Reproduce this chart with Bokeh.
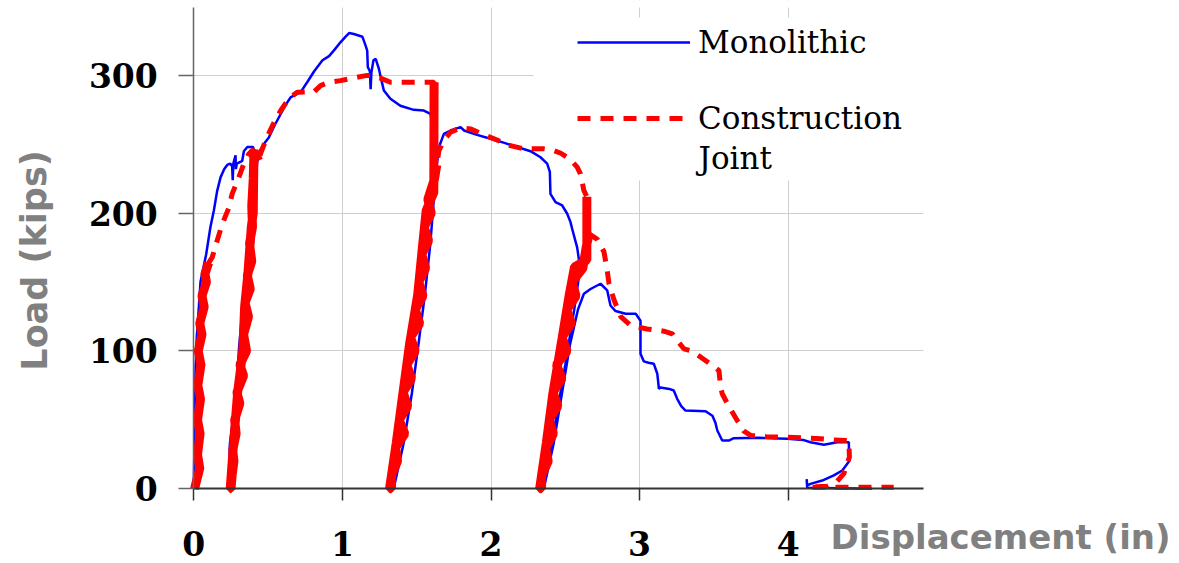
from bokeh.plotting import figure
from bokeh.models import Range1d, FixedTicker, Legend, LegendItem, Label, BoxAnnotation
from bokeh.embed import file_html
from bokeh.resources import INLINE

# ---------------- data ----------------
x_ticks = [0, 1, 2, 3, 4]
y_ticks = [0, 100, 200, 300]
x_grid = [1, 2, 3, 4]
y_grid = [100, 200, 300]

# Monolithic specimen (displacement in, load kips)
mono_x = [0, 0.005, 0.012, 0.02, 0.034, 0.045, 0.056, 0.083, 0.112, 0.135, 0.157, 0.18, 0.205, 0.225, 0.245,
          0.258, 0.262, 0.266, 0.281, 0.283, 0.29, 0.326, 0.337, 0.36, 0.40, 0.405, 0.40, 0.35, 0.30, 0.245,
          0.235, 0.243, 0.264, 0.282, 0.305, 0.332, 0.35, 0.372, 0.404, 0.415, 0.43, 0.437, 0.47, 0.505, 0.545,
          0.585, 0.62, 0.651, 0.72, 0.763, 0.81, 0.866, 0.91, 0.942, 0.987, 1.02, 1.045, 1.077, 1.135, 1.155,
          1.167, 1.171, 1.185, 1.19, 1.195, 1.209, 1.224, 1.245, 1.268, 1.279, 1.323, 1.39, 1.48, 1.548, 1.593,
          1.60, 1.60, 1.55, 1.48, 1.41, 1.34, 1.345, 1.412, 1.467, 1.512, 1.555, 1.592, 1.615, 1.635, 1.65,
          1.683, 1.727, 1.795, 1.819, 1.9, 1.997, 2.09, 2.176, 2.266, 2.333, 2.378, 2.396, 2.40, 2.434,
          2.479, 2.513, 2.535, 2.546, 2.58, 2.60, 2.56, 2.50, 2.42, 2.35, 2.355, 2.422, 2.477, 2.532, 2.585,
          2.625, 2.67, 2.737, 2.782, 2.804, 2.838, 2.906, 2.974, 3.006, 3.006, 3.028, 3.06, 3.096, 3.119,
          3.13, 3.14, 3.20, 3.23, 3.253, 3.28, 3.309, 3.444, 3.49, 3.51, 3.523, 3.556, 3.6, 3.634, 3.8, 3.993,
          4.1, 4.15, 4.24, 4.33, 4.408, 4.41, 4.364, 4.307, 4.229, 4.15, 4.128, 4.124, 4.128, 4.565]
mono_y = [0, 40, 88, 110, 132, 150, 156, 170, 190, 202, 216, 226, 232, 235, 236,
          234, 224, 236, 242, 232, 236, 238, 245, 248, 248, 244, 180, 120, 60, 0,
          5, 33, 50, 66, 103, 135, 161, 190, 209, 225, 240, 244, 250, 255, 264,
          272, 279, 284, 288, 295, 303, 311, 314, 318, 324, 328, 330.7, 330, 328, 322,
          318, 306, 303, 290, 302, 311, 312, 305, 294, 289, 283, 278, 275, 274.5, 272,
          268, 215, 165, 110, 60, 0, 0, 33, 69, 105, 141, 178, 210, 235, 248,
          257.6, 260, 262.5, 260, 257, 254, 251, 248, 245, 240.6, 236, 230, 214, 208,
          205.6, 199.6, 193.5, 188.7, 175, 160, 130, 90, 40, 0, 0, 33, 69, 105, 130,
          141.5, 145, 148.8, 144, 133, 129, 127, 127, 122, 98, 92.5, 91.5, 90.7, 83.5,
          72.6, 73.5, 72.5, 71.3, 65.3, 60, 56.8, 56.3, 53, 48, 42.3, 35, 35, 36.7, 37, 36.3,
          35.5, 33.8, 32, 33.8, 33.8, 20, 13.3, 9.7, 6, 3.6, 2.4, 7, 0.8, 0]

# Construction-joint specimen, in path order (densely sampled parts: rise, cyc1..3)
cj_rise_x = [0.005, 0.04, 0.025, 0.042, 0.025, 0.045, 0.027, 0.048, 0.03, 0.055, 0.04, 0.07, 0.055, 0.085,
             0.075, 0.10]
cj_rise_y = [0, 15, 25, 40, 50, 65, 75, 90, 100, 112, 120, 132, 140, 150, 156, 164]

cj_env1_x = [0.10, 0.124, 0.157, 0.191, 0.236, 0.258, 0.303, 0.337, 0.37, 0.393, 0.405]
cj_env1_y = [164, 168, 180, 192, 204, 214, 226, 236, 243, 245.5, 246]

cj_cyc1_x = [0.405, 0.40, 0.387, 0.364, 0.342, 0.33, 0.296, 0.269, 0.245, 0.25, 0.258, 0.27, 0.262, 0.285,
             0.275, 0.31, 0.29, 0.335, 0.31, 0.355, 0.335, 0.368, 0.345, 0.38, 0.36, 0.39, 0.375, 0.395,
             0.39, 0.40, 0.405, 0.437]
cj_cyc1_y = [246, 200, 190, 156, 132, 100, 71, 35, 0, 0, 10, 20, 28, 40,
             50, 62, 70, 82, 90, 100, 112, 125, 135, 145, 155, 165, 178, 190,
             205, 225, 245, 238]

cj_env2_x = [0.437, 0.449, 0.48, 0.518, 0.55, 0.585, 0.62, 0.65, 0.696, 0.808, 0.853, 0.909, 0.987, 1.077,
             1.167, 1.2, 1.256, 1.323, 1.617]
cj_env2_y = [238, 243, 252, 261, 268, 274.5, 280, 284, 287.8, 288, 292.6, 295, 296.2, 298.2,
             300, 300, 298, 295, 295]

cj_cyc2_x = [1.617, 1.615, 1.564, 1.541, 1.507, 1.452, 1.407, 1.362, 1.317, 1.33, 1.331, 1.371, 1.358, 1.42,
             1.382, 1.44, 1.408, 1.465, 1.433, 1.49, 1.458, 1.52, 1.49, 1.542, 1.514, 1.56, 1.534, 1.58,
             1.55, 1.598, 1.575, 1.62, 1.635]
cj_cyc2_y = [295, 215, 202, 178, 141, 105, 69, 33, 0, 0, 10, 20, 30, 40,
             50, 60, 70, 80, 90, 100, 110, 120, 130, 140, 150, 160, 170, 180,
             190, 200, 210, 225, 235]

cj_env3_x = [1.635, 1.65, 1.683, 1.727, 1.795, 1.862, 1.93, 1.997, 2.065, 2.131, 2.22, 2.355, 2.422, 2.47,
             2.513, 2.55, 2.58, 2.602, 2.625, 2.645]
cj_env3_y = [235, 245.6, 252.8, 258.8, 262, 261.2, 258, 255, 252, 249, 246.7, 246.7, 245.5, 243.5,
             240.6, 237, 233.4, 228.6, 216.5, 212]

cj_cyc3_x = [2.645, 2.645, 2.562, 2.527, 2.472, 2.416, 2.372, 2.327, 2.34, 2.341, 2.385, 2.368, 2.42, 2.39,
             2.45, 2.417, 2.478, 2.44, 2.512, 2.478, 2.54, 2.51, 2.572, 2.545, 2.618, 2.64, 2.66]
cj_cyc3_y = [212, 166, 161, 141, 105, 69, 33, 0, 0, 10, 20, 30, 40, 50,
             60, 70, 80, 90, 100, 110, 120, 130, 140, 150, 160, 175, 185]

cj_tail_x = [2.66, 2.716, 2.76, 2.78, 2.794, 2.828, 2.873, 2.94, 3.05, 3.163, 3.22, 3.253, 3.298, 3.35,
             3.412, 3.49, 3.534, 3.545, 3.556, 3.60, 3.657, 3.70, 3.747, 3.85, 3.994, 4.10, 4.218, 4.30,
             4.408, 4.412, 4.374, 4.33, 4.263, 4.14, 4.40, 4.71]
cj_tail_y = [185, 181, 172, 160, 149, 137, 125, 118.5, 116, 114.4, 112.5, 107.6, 101.6, 100,
             95.5, 89.5, 85.8, 74, 69, 60, 49.6, 42, 38.7, 38, 37.4, 37, 36.3, 35.5,
             35, 23, 11, 5.5, 1.8, 1.2, 1.2, 1.2]

series_names = ["Monolithic", "Construction", "Joint"]
x_title = "Displacement (in)"
y_title = "Load (kips)"

# ---------------- figure ----------------
# the frame covers the whole canvas; the axes sit at x=0 / y=0 (fixed_location)
p = figure(width=1179, height=563, output_backend="svg", toolbar_location=None,
           x_range=Range1d(-1.3008, 6.6332), y_range=Range1d(-54.21, 354.35),
           min_border=0, min_border_left=0, min_border_right=0, min_border_top=0, min_border_bottom=0)
p.outline_line_color = None
p.background_fill_color = "white"
p.border_fill_color = "white"

# grids
p.xgrid.ticker = FixedTicker(ticks=x_grid)
p.ygrid.ticker = FixedTicker(ticks=y_grid)
p.grid.grid_line_color = "#cfcfcf"
p.grid.grid_line_width = 1

# white masks (underlay) limiting the grid to the plot area and hiding it behind the legend
for kw in (dict(top=0), dict(bottom=349.3), dict(right=0), dict(left=4.91),
           dict(left=2.286, bottom=223.7, top=342)):
    p.add_layout(BoxAnnotation(fill_color="white", fill_alpha=1, line_color=None, level="underlay", **kw))

# axes
for ax in (p.xaxis, p.yaxis):
    ax.fixed_location = 0
    ax.major_tick_in = 0
    ax.minor_tick_line_color = None
    ax.major_label_text_font = "DejaVu Serif"
    ax.major_label_text_font_style = "bold"
    ax.major_label_text_font_size = "33px"
    ax.major_label_text_color = "black"

p.xaxis.ticker = FixedTicker(ticks=x_ticks)
p.xaxis.bounds = (0, 4.91)
p.xaxis.major_tick_out = 12
p.xaxis.major_label_standoff = 30
p.xaxis.axis_line_color = "#333333"
p.xaxis.axis_line_width = 2
p.xaxis.major_tick_line_color = "#333333"
p.xaxis.major_tick_line_width = 1.5

p.yaxis.ticker = FixedTicker(ticks=y_ticks)
p.yaxis.bounds = (0, 349.3)
p.yaxis.major_tick_out = 15
p.yaxis.major_label_standoff = 21
p.yaxis.axis_line_color = "#666666"
p.yaxis.axis_line_width = 1.5
p.yaxis.major_tick_line_color = "#666666"
p.yaxis.major_tick_line_width = 1.5

# series
r_mono = p.line(mono_x, mono_y, line_color="#0000ff", line_width=2.5)

cj_parts_x = [cj_rise_x, cj_env1_x, cj_cyc1_x, cj_env2_x, cj_cyc2_x, cj_env3_x, cj_cyc3_x, cj_tail_x]
cj_parts_y = [cj_rise_y, cj_env1_y, cj_cyc1_y, cj_env2_y, cj_cyc2_y, cj_env3_y, cj_cyc3_y, cj_tail_y]
cj_x, cj_y = [], []
for xs, ys in zip(cj_parts_x, cj_parts_y):
    cj_x += xs
    cj_y += ys
r_cj = p.line(cj_x, cj_y, line_color="#ff0000", line_width=5, line_dash="13 10")
# densely sampled unload/reload stretches read as solid
p.multi_line([cj_rise_x, cj_cyc1_x, cj_cyc2_x, cj_cyc3_x],
             [cj_rise_y, cj_cyc1_y, cj_cyc2_y, cj_cyc3_y],
             line_color="#ff0000", line_width=9)

# legend
legend = Legend(items=[LegendItem(label=series_names[0], renderers=[r_mono]),
                       LegendItem(label=series_names[1], renderers=[r_cj])],
                location=(577, 427))
legend.glyph_width = 113
legend.glyph_height = 36
legend.label_height = 36
legend.label_standoff = 8
legend.label_text_font = "DejaVu Serif"
legend.label_text_font_size = "31px"
legend.label_text_color = "black"
legend.spacing = 40
legend.padding = 0
legend.margin = 0
legend.background_fill_alpha = 0
legend.border_line_color = None
p.add_layout(legend)

# second line of the "Construction Joint" legend label
p.add_layout(Label(x=3.3964, y=239.7, text=series_names[2], text_font="DejaVu Serif",
                   text_font_size="31px", text_color="black",
                   text_baseline="middle", text_align="left"))

# axis titles
p.add_layout(Label(x=5.429, y=-35.3, text=x_title, text_font="DejaVu Sans",
                   text_font_style="bold", text_font_size="34px", text_color="#808080",
                   text_baseline="middle", text_align="center"))
p.add_layout(Label(x=-1.072, y=165.7, text=y_title, text_font="DejaVu Sans", angle=1.5708,
                   text_font_style="bold", text_font_size="35px", text_color="#808080",
                   text_baseline="middle", text_align="center"))

open("out.html", "w").write(file_html(p, INLINE))
